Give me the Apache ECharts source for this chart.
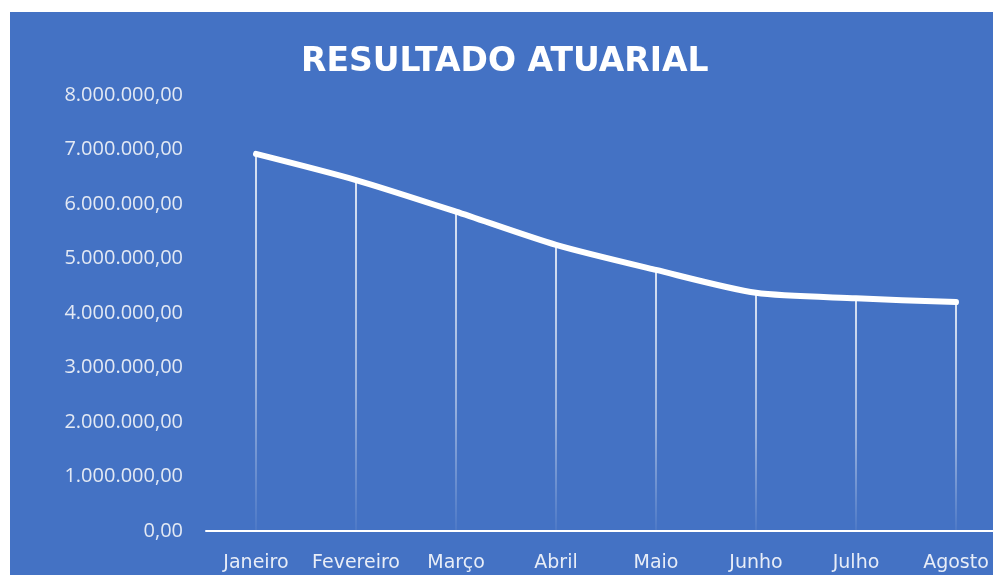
<!DOCTYPE html>
<html>
<head>
<meta charset="utf-8">
<script src="https://cdn.jsdelivr.net/npm/echarts@6/dist/echarts.min.js"></script>
<style>
html,body{margin:0;padding:0;background:#ffffff;overflow:hidden;width:993px;height:575px;}
#c{position:absolute;left:10px;top:12px;width:1010px;height:563px;background:#4472C4;}
</style>
</head>
<body>
<div id="c"></div>
<script>
const titleText = 'RESULTADO ATUARIAL';
const months = ['Janeiro','Fevereiro','Março','Abril','Maio','Junho','Julho','Agosto'];
const resultado = [6920000, 6440000, 5860000, 5250000, 4790000, 4370000, 4270000, 4200000];
const yTicks = [0, 1000000, 2000000, 3000000, 4000000, 5000000, 6000000, 7000000, 8000000];

function fmtBR(v){
  const s = Math.round(v).toString().replace(/\B(?=(\d{3})+(?!\d))/g,'.');
  return s + ',00';
}

const chart = echarts.init(document.getElementById('c'), null, {renderer:'canvas'});
chart.setOption({
  backgroundColor:'#4472C4',
  animation:false,
  title:{
    text:titleText,
    left:286,
    top:29,
    textStyle:{color:'#ffffff',fontFamily:'DejaVu Sans',fontWeight:'bold',fontSize:33}
  },
  grid:{left:196,top:83,width:800,height:436,containLabel:false},
  xAxis:{
    type:'category',
    data:months,
    boundaryGap:true,
    axisLine:{lineStyle:{color:'#ffffff',width:2}},
    axisTick:{show:false},
    axisLabel:{color:'#e8edf7',fontFamily:'DejaVu Sans',fontSize:19,margin:23,interval:0}
  },
  yAxis:{
    type:'value',
    min:yTicks[0],
    max:yTicks[yTicks.length-1],
    interval:yTicks[1]-yTicks[0],
    axisLine:{show:false},
    axisTick:{show:false},
    splitLine:{show:false},
    axisLabel:{color:'#e3e9f4',fontFamily:'Open Sans',fontSize:20,margin:23,formatter:fmtBR}
  },
  series:[
    {
      type:'bar',
      data:resultado,
      barWidth:2,
      silent:true,
      itemStyle:{
        color:new echarts.graphic.LinearGradient(0,0,0,1,[
          {offset:0,color:'rgba(255,255,255,0.8)'},
          {offset:0.6,color:'rgba(255,255,255,0.45)'},
          {offset:1,color:'rgba(255,255,255,0.05)'}
        ])
      }
    },
    {
      type:'line',
      data:resultado,
      smooth:0.25,
      symbol:'none',
      lineStyle:{color:'#ffffff',width:6,cap:'round',join:'round'}
    }
  ]
});
</script>
</body>
</html>
